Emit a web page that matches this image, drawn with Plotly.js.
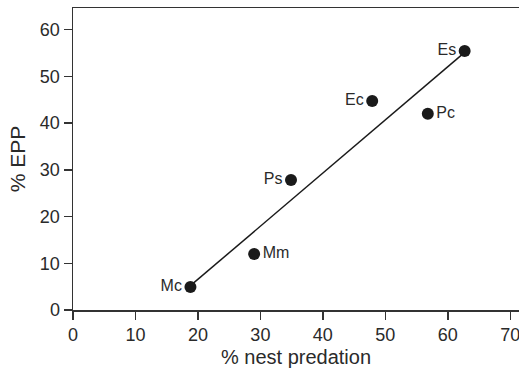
<!DOCTYPE html>
<html>
<head>
<meta charset="utf-8">
<script src="https://cdn.plot.ly/plotly-3.0.1.min.js"></script>
<style>html,body{margin:0;padding:0;background:#fff;overflow:hidden}</style>
</head>
<body>
<div id="chart" style="width:519px;height:369px"></div>
<script>
var species = ["Mc", "Mm", "Ps", "Ec", "Pc", "Es"];
var nestPredation = [18.8, 29.0, 34.9, 47.9, 56.8, 62.7];
var epp = [4.9, 12.0, 27.8, 44.7, 42.0, 55.4];
var labelSide = ["middle left", "middle right", "middle left", "middle left", "middle right", "middle left"];
var fitX = [18.8, 62.7];
var fitY = [5.2, 55.1];
var xTicks = [0, 10, 20, 30, 40, 50, 60, 70];
var yTicks = [0, 10, 20, 30, 40, 50, 60];

var ink = "#1a1a1a";
var txt = "#2a2a2a";
var fam = "Liberation Sans, Arial, sans-serif";

var traces = [
  {
    x: fitX, y: fitY, mode: "lines", type: "scatter",
    line: {color: ink, width: 1.5}, hoverinfo: "skip", showlegend: false
  },
  {
    x: nestPredation, y: epp, mode: "markers+text", type: "scatter",
    text: species, textposition: labelSide,
    textfont: {family: fam, size: 16, color: txt},
    marker: {color: ink, size: 12}, showlegend: false, cliponaxis: false
  }
];

var layout = {
  width: 519, height: 369,
  margin: {l: 73, r: 0, t: 8, b: 59},
  paper_bgcolor: "#fff", plot_bgcolor: "#fff",
  font: {family: fam, size: 18, color: txt},
  xaxis: {
    range: [0, 71.4], tickvals: xTicks, ticktext: xTicks.map(String),
    showgrid: false, zeroline: false, showline: true, linecolor: "#333", linewidth: 1.5,
    mirror: true, ticks: "outside", ticklen: 8, tickcolor: "#333", tickwidth: 1.5,
    ticklabeloverflow: "allow",
    tickfont: {family: fam, size: 18, color: txt},
    title: {text: "% nest predation", font: {family: fam, size: 20, color: txt}, standoff: 6}
  },
  yaxis: {
    range: [0, 64.6], tickvals: yTicks, ticktext: yTicks.map(String),
    showgrid: false, zeroline: false, showline: true, linecolor: "#333", linewidth: 1.5,
    mirror: false, ticks: "outside", ticklen: 8, tickcolor: "#333", tickwidth: 1.5,
    ticklabeloverflow: "allow",
    tickfont: {family: fam, size: 18, color: txt},
    title: {text: "% EPP", font: {family: fam, size: 21, color: txt}, standoff: 8}
  }
};

Plotly.newPlot("chart", traces, layout, {staticPlot: true, displayModeBar: false});
</script>
</body>
</html>
